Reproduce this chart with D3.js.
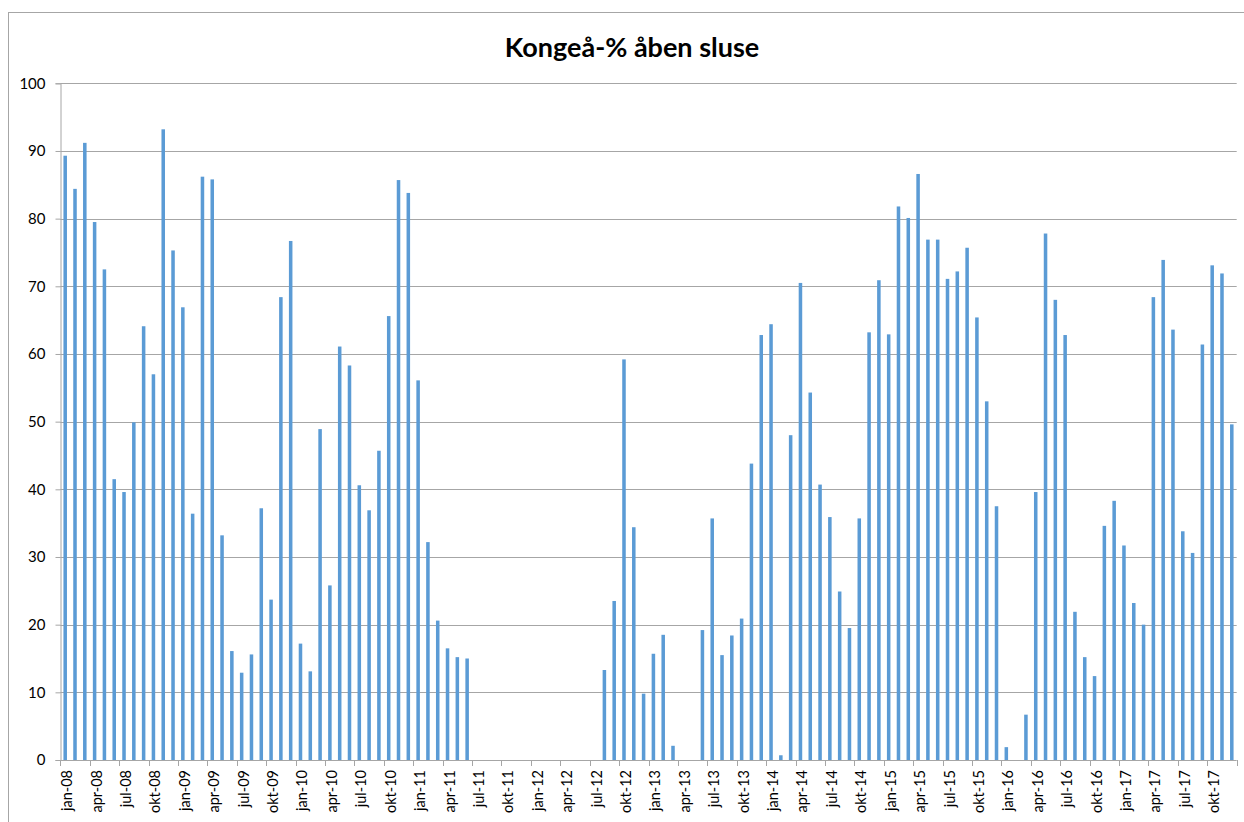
<!DOCTYPE html>
<html>
<head>
<meta charset="utf-8">
<script src="https://cdn.jsdelivr.net/npm/d3@7"></script>
<style>
  html, body { margin: 0; padding: 0; background: #fff; }
  svg { display: block; }
  text { font-family: Lato, "Open Sans", "Liberation Sans", sans-serif; }
</style>
</head>
<body>
<svg id="chart" width="1244" height="822"></svg>
<script>
const title = "Kongeå-% åben sluse";

const categories = [
  "jan-08","feb-08","mar-08","apr-08","maj-08","jun-08","jul-08","aug-08","sep-08","okt-08","nov-08","dec-08",
  "jan-09","feb-09","mar-09","apr-09","maj-09","jun-09","jul-09","aug-09","sep-09","okt-09","nov-09","dec-09",
  "jan-10","feb-10","mar-10","apr-10","maj-10","jun-10","jul-10","aug-10","sep-10","okt-10","nov-10","dec-10",
  "jan-11","feb-11","mar-11","apr-11","maj-11","jun-11","jul-11","aug-11","sep-11","okt-11","nov-11","dec-11",
  "jan-12","feb-12","mar-12","apr-12","maj-12","jun-12","jul-12","aug-12","sep-12","okt-12","nov-12","dec-12",
  "jan-13","feb-13","mar-13","apr-13","maj-13","jun-13","jul-13","aug-13","sep-13","okt-13","nov-13","dec-13",
  "jan-14","feb-14","mar-14","apr-14","maj-14","jun-14","jul-14","aug-14","sep-14","okt-14","nov-14","dec-14",
  "jan-15","feb-15","mar-15","apr-15","maj-15","jun-15","jul-15","aug-15","sep-15","okt-15","nov-15","dec-15",
  "jan-16","feb-16","mar-16","apr-16","maj-16","jun-16","jul-16","aug-16","sep-16","okt-16","nov-16","dec-16",
  "jan-17","feb-17","mar-17","apr-17","maj-17","jun-17","jul-17","aug-17","sep-17","okt-17","nov-17","dec-17"
];

const values = [
  89.3, 84.4, 91.2, 79.5, 72.5, 41.5, 39.6, 49.9, 64.1, 57.0, 93.2, 75.3,
  66.9, 36.4, 86.2, 85.8, 33.2, 16.1, 12.9, 15.6, 37.2, 23.7, 68.4, 76.7,
  17.2, 13.1, 48.9, 25.8, 61.1, 58.3, 40.6, 36.9, 45.7, 65.6, 85.7, 83.8,
  56.1, 32.2, 20.6, 16.5, 15.2, 15.0, 0, 0, 0, 0, 0, 0,
  0, 0, 0, 0, 0, 0, 0, 13.3, 23.5, 59.2, 34.4, 9.8,
  15.7, 18.5, 2.1, 0, 0, 19.2, 35.7, 15.5, 18.4, 20.9, 43.8, 62.8,
  64.4, 0.7, 48.0, 70.5, 54.3, 40.7, 35.9, 24.9, 19.5, 35.7, 63.2, 70.9,
  62.9, 81.8, 80.1, 86.6, 76.9, 76.9, 71.1, 72.2, 75.7, 65.4, 53.0, 37.5,
  1.9, 0, 6.7, 39.6, 77.8, 68.0, 62.8, 21.9, 15.2, 12.4, 34.6, 38.3,
  31.7, 23.2, 20.0, 68.4, 73.9, 63.6, 33.8, 30.6, 61.4, 73.1, 71.9, 49.6
];

const tickLabels = categories.filter((d, i) => i % 3 === 0);
const yTicks = [0, 10, 20, 30, 40, 50, 60, 70, 80, 90, 100];

const svg = d3.select("#chart");
const pLeft = 60.3, pRight = 1236.7, pTop = 83.3, pBottom = 760;

// outer chart border
svg.append("rect")
  .attr("x", 8.5).attr("y", 12.5)
  .attr("width", 1260).attr("height", 840)
  .attr("fill", "#fff").attr("stroke", "#a6a6a6").attr("stroke-width", 1);

// title
svg.append("text")
  .attr("x", 632).attr("y", 57)
  .attr("text-anchor", "middle")
  .attr("font-size", 27).attr("font-weight", "bold")
  .attr("fill", "#000")
  .text(title);

const x = d3.scaleBand().domain(categories).range([pLeft, pRight])
  .paddingInner(0.64).paddingOuter(0.32);
const y = d3.scaleLinear().domain([0, 100]).range([pBottom, pTop]);

// gridlines
svg.append("g")
  .selectAll("line").data(yTicks.filter(d => d > 0)).join("line")
  .attr("x1", pLeft).attr("x2", pRight)
  .attr("y1", d => Math.round(y(d)) + 0.5).attr("y2", d => Math.round(y(d)) + 0.5)
  .attr("stroke", "#a6a6a6").attr("stroke-width", 1);

// bars
svg.append("g")
  .selectAll("rect").data(values.map((v, i) => ({ c: categories[i], v })).filter(d => d.v > 0)).join("rect")
  .attr("x", d => x(d.c))
  .attr("width", x.bandwidth())
  .attr("y", d => y(d.v))
  .attr("height", d => y(0) - y(d.v))
  .attr("fill", "#5b9bd5");

// y axis
const yAxis = svg.append("g")
  .attr("transform", `translate(${Math.round(pLeft) + 0.5},0)`)
  .call(d3.axisLeft(y).tickValues(yTicks).tickSize(5).tickPadding(10).tickFormat(d3.format("d")));
yAxis.select(".domain").attr("stroke", "#a6a6a6");
yAxis.selectAll(".tick line").attr("stroke", "#a6a6a6");
yAxis.selectAll(".tick text")
  .attr("font-family", "Lato, 'Open Sans', sans-serif")
  .attr("font-size", 15).attr("fill", "#000");

// x axis: ticks at category boundaries every 3 months + end
const step = x.step();
const tickPos = tickLabels.map(c => categories.indexOf(c)).map(i => pLeft + i * step).concat([pRight]);
const xg = svg.append("g");
xg.append("line")
  .attr("x1", pLeft).attr("x2", pRight)
  .attr("y1", pBottom + 0.5).attr("y2", pBottom + 0.5)
  .attr("stroke", "#a6a6a6");
xg.selectAll("line.tk").data(tickPos).join("line").attr("class", "tk")
  .attr("x1", d => Math.round(d) + 0.5).attr("x2", d => Math.round(d) + 0.5)
  .attr("y1", pBottom).attr("y2", pBottom + 6)
  .attr("stroke", "#a6a6a6");
xg.selectAll("text").data(tickLabels).join("text")
  .attr("transform", d => `translate(${x(d) + x.bandwidth() / 2 + 1.5},${pBottom + 10}) rotate(-90)`)
  .attr("text-anchor", "end")
  .attr("dominant-baseline", "central")
  .attr("font-size", 14.5)
  .attr("fill", "#000")
  .text(d => d);
</script>
</body>
</html>
